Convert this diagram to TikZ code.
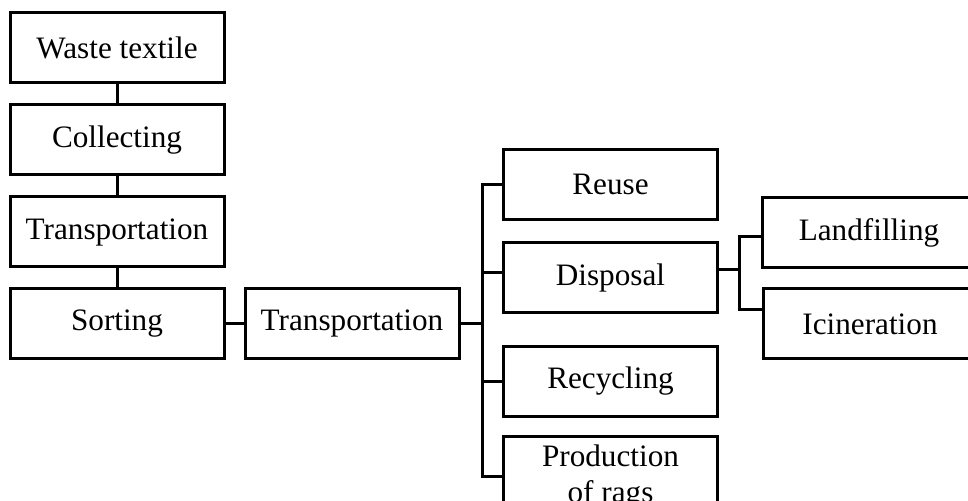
\documentclass[tikz,border=0pt]{standalone}
\usepackage{fontspec}
\setmainfont{Liberation Serif}
\tikzset{box/.style={draw,line width=1.5pt,minimum width=107pt,minimum height=35pt,inner sep=0pt,align=center,font=\fontsize{15.6}{18}\selectfont},
link/.style={line width=1.5pt}}
\begin{document}
\begin{tikzpicture}[x=.5pt,y=-.5pt]
\useasboundingbox (0,0) rectangle (968,501);
\clip (0,0) rectangle (968,501);
% left column
\node[box] (waste) at(117,48) {Waste textile};
\node[box] (collect) at(117,140) {Collecting};
\node[box] (trans) at(117,232) {Transportation};
\node[box] (sort) at(117,323.5) {Sorting};
\node[box] (transb) at(352,323.5) {Transportation};
% outcomes
\node[box] (reuse) at(610.5,184.5) {Reuse};
\node[box] (disp) at(610.5,278) {Disposal};
\node[box] (recyc) at(610.5,381.5) {Recycling};
\node[box,minimum height=40pt] (rags) at(610.5,477) {Production\\of rags};
\node[box] (land) at(869,233) {Landfilling};
\node[box] (icin) at(870,324) {Icineration};
\coordinate (bus) at(482,323.5);
\coordinate (split) at(739,270);
\draw[link] (waste) -- (collect);
\draw[link] (collect) -- (trans);
\draw[link] (trans) -- (sort);
\draw[link] (sort) -- (transb);
\draw[link] (transb) -- (bus);
\draw[link] (reuse.west) -| (bus) |- (rags.west);
\draw[link] ([yshift=2.5pt]disp.west) -- ([yshift=2.5pt]bus |- disp.west);
\draw[link] (recyc.west) -- (bus |- recyc.west);
\draw[link] ([yshift=4pt]disp.east) -- (split);
\draw[link] ([yshift=-2pt]land.west) -| (split) |- ([yshift=7pt]icin.west);
\end{tikzpicture}
\end{document}
